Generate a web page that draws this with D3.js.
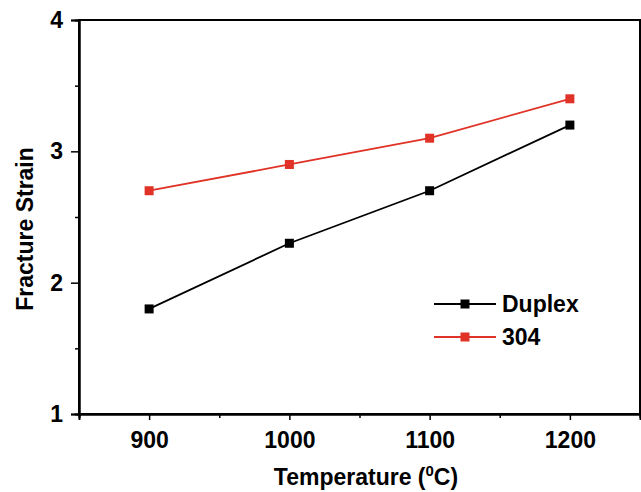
<!DOCTYPE html>
<html>
<head>
<meta charset="utf-8">
<script src="https://cdn.jsdelivr.net/npm/d3@7"></script>
<style>
  html, body { margin: 0; padding: 0; background: #fff; }
  svg { display: block; font-family: "Liberation Sans", Arial, Helvetica, sans-serif; }
</style>
</head>
<body>
<svg id="chart" width="641" height="492"></svg>
<script>
// Fracture strain vs. temperature for two stainless steels
const temperatures = [900, 1000, 1100, 1200];
const duplexStrain = [1.8, 2.3, 2.7, 3.2];
const steel304Strain = [2.7, 2.9, 3.1, 3.4];
const seriesNames = ["Duplex", "304"];
const seriesColors = ["#000000", "#e03226"];
const xTicks = [900, 1000, 1100, 1200];
const yTicks = [1, 2, 3, 4];

const svg = d3.select("#chart");
const margin = { left: 79, top: 20, right: 1, bottom: 78 };
const W = 641, H = 492;

const x = d3.scaleLinear().domain([850, 1250]).range([margin.left, W - margin.right]);
const y = d3.scaleLinear().domain([1, 4]).range([H - margin.bottom, margin.top]);

// frame (top and right edges)
svg.append("rect")
  .attr("x", x(850)).attr("y", y(4))
  .attr("width", x(1250) - x(850)).attr("height", y(1) - y(4))
  .attr("fill", "none").attr("stroke", "#000").attr("stroke-width", 2);

// x axis: major ticks at labelled values, minor ticks in between
const xAxis = svg.append("g").attr("transform", `translate(0,${y(1)})`);
xAxis.call(d3.axisBottom(x).tickValues(xTicks).tickSize(6).tickPadding(12).tickFormat(d3.format("d")));
xAxis.append("g").call(d3.axisBottom(x).tickValues([850, 950, 1050, 1150, 1250]).tickSize(4).tickFormat(""));

const yAxis = svg.append("g").attr("transform", `translate(${x(850)},0)`);
yAxis.call(d3.axisLeft(y).tickValues(yTicks).tickSize(8).tickPadding(8).tickFormat(d3.format("d")));
yAxis.append("g").call(d3.axisLeft(y).tickValues([1.5, 2.5, 3.5]).tickSize(4).tickFormat(""));

svg.selectAll(".domain").attr("stroke", "#000").attr("stroke-width", 2);
svg.selectAll(".tick line").attr("stroke", "#000").attr("stroke-width", 1.5);
svg.selectAll(".tick text")
  .attr("font-size", 23).attr("font-weight", "bold").attr("fill", "#000")
  .attr("font-family", "'Liberation Sans', Arial, sans-serif");

// axis titles
const xt = svg.append("text")
  .attr("x", 366).attr("y", 485)
  .attr("text-anchor", "middle")
  .attr("font-size", 23).attr("font-weight", "bold");
xt.append("tspan").text("Temperature (");
xt.append("tspan").attr("font-size", 15).attr("dy", -9).text("0");
xt.append("tspan").attr("dy", 9).text("C)");

svg.append("text")
  .attr("transform", `translate(33,${229}) rotate(-90)`)
  .attr("text-anchor", "middle")
  .attr("font-size", 23).attr("font-weight", "bold")
  .text("Fracture Strain");

// series
const series = [duplexStrain, steel304Strain];
const line = d3.line().x((d, i) => x(temperatures[i])).y(d => y(d));
series.forEach((vals, k) => {
  const g = svg.append("g");
  g.append("path").datum(vals)
    .attr("d", line).attr("fill", "none")
    .attr("stroke", seriesColors[k]).attr("stroke-width", 1.8);
  g.selectAll("rect").data(vals).join("rect")
    .attr("x", (d, i) => x(temperatures[i]) - 4.5)
    .attr("y", d => y(d) - 4.5)
    .attr("width", 9).attr("height", 9)
    .attr("fill", seriesColors[k]);
});

// legend
const legendY = [304, 337];
seriesNames.forEach((name, k) => {
  const g = svg.append("g");
  g.append("line")
    .attr("x1", 434).attr("x2", 496)
    .attr("y1", legendY[k]).attr("y2", legendY[k])
    .attr("stroke", seriesColors[k]).attr("stroke-width", 1.8);
  g.append("rect")
    .attr("x", 465 - 4.5).attr("y", legendY[k] - 4.5)
    .attr("width", 9).attr("height", 9)
    .attr("fill", seriesColors[k]);
  g.append("text")
    .attr("x", 502).attr("y", legendY[k] + 8)
    .attr("font-size", 23).attr("font-weight", "bold")
    .text(name);
});
</script>
</body>
</html>
